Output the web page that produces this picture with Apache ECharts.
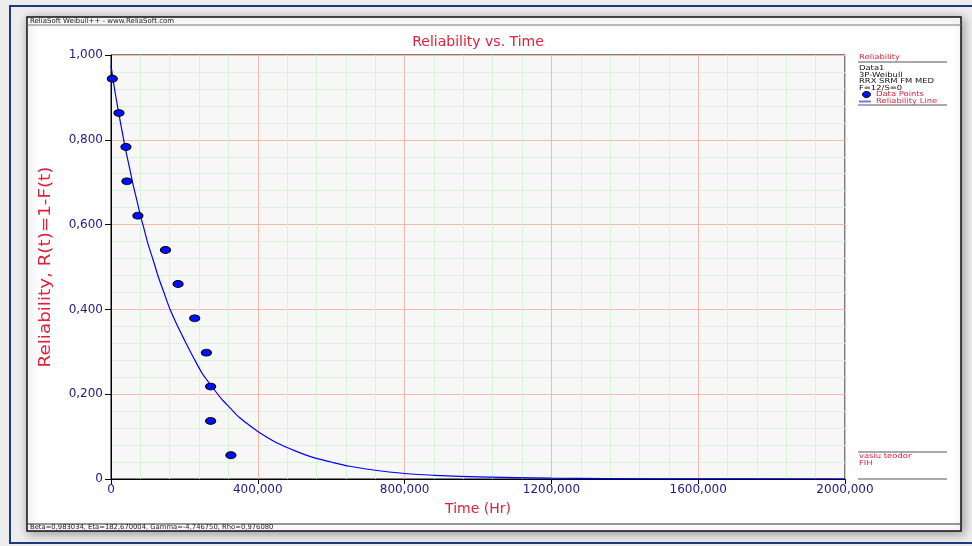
<!DOCTYPE html>
<html>
<head>
<meta charset="utf-8">
<title>Reliability vs. Time</title>
<script src="https://cdn.jsdelivr.net/npm/echarts@6/dist/echarts.min.js"></script>
<style>
    html, body { margin: 0; padding: 0; background: #ededed; }
    #chart { width: 972px; height: 546px; }
</style>
</head>
<body>
<div id="chart"></div>
<script>
// 数据点 (Time, Reliability)
var pointTime = [3.5, 21.7, 40.7, 43.4, 73.3, 148.5, 182.8, 228.1, 259.9, 271.5, 271.5, 326.7];
var pointRel = [0.944, 0.863, 0.783, 0.702, 0.621, 0.540, 0.460, 0.379, 0.298, 0.218, 0.137, 0.056];

// 可靠度曲线
var lineTime = [0, 10, 20, 30, 40, 50, 60, 70, 80, 90, 100, 115, 130, 145, 160, 180, 200, 225, 250, 275,
    300, 325, 350, 375, 400, 450, 500, 550, 600, 650, 700, 800, 900, 1000, 1200, 1500, 2000];
var lineRel = [0.975, 0.918, 0.868, 0.821, 0.776, 0.736, 0.695, 0.659, 0.622, 0.590, 0.557, 0.516, 0.474, 0.438, 0.402, 0.363, 0.328, 0.286, 0.247, 0.218,
    0.190, 0.167, 0.145, 0.128, 0.112, 0.086, 0.067, 0.051, 0.040, 0.030, 0.023, 0.013, 0.008, 0.005, 0.002, 0.0004, 0];

// 刻度标签
var xTickValues = [0, 400, 800, 1200, 1600, 2000];
var xTickLabels = ['0', '400,000', '800,000', '1200,000', '1600,000', '2000,000'];
var yTickValues = [0, 0.2, 0.4, 0.6, 0.8, 1];
var yTickLabels = ['0', '0,200', '0,400', '0,600', '0,800', '1,000'];

// 图例文字
var legendInfo = ['Data1', '3P-Weibull', 'RRX SRM FM MED', 'F=12/S=0'];
var footerText = 'Beta=0,983034, Eta=182,670004, Gamma=-4,746750, Rho=0,976080';
var headerText = 'ReliaSoft Weibull++ - www.ReliaSoft.com';

var RED = '#e2203c';
var NAVY = '#1c1c86';

function pairs(xs, ys) {
    return xs.map(function (x, i) { return [x, ys[i]]; });
}

function findLabel(values, labels, v) {
    for (var i = 0; i < values.length; i++) {
        if (Math.abs(values[i] - v) < 1e-6) return labels[i];
    }
    return '';
}

// 文字, sx 为横向拉伸
function txt(x, y, text, size, color, align, sx) {
    return {
        type: 'text', z: 10,
        x: x, y: y, scaleX: sx || 1,
        style: {
            x: 0, y: 0, text: text,
            font: size + 'px "DejaVu Sans"',
            fill: color,
            textAlign: align || 'left',
            textVerticalAlign: 'middle'
        }
    };
}

function hline(x1, x2, y, color, w) {
    return {
        type: 'line', z: 10,
        shape: { x1: x1, y1: y, x2: x2, y2: y },
        style: { stroke: color, lineWidth: w || 1 }
    };
}

var graphics = [
    // 外框和白色面板
    { type: 'rect', z: -20, shape: { x: 10, y: 6, width: 980, height: 537 },
      style: { fill: 'none', stroke: '#1e3a7a', lineWidth: 2 } },
    { type: 'rect', z: -10, shape: { x: 27, y: 17, width: 934, height: 514 },
      style: { fill: '#ffffff', stroke: '#111', lineWidth: 1.5,
               shadowBlur: 10, shadowColor: 'rgba(0,0,0,0.35)', shadowOffsetX: 2, shadowOffsetY: 2 } },
    hline(27, 961, 25, '#777', 1),
    hline(27, 961, 524, '#333', 1),
    txt(30, 21.5, headerText, 7, '#222'),
    txt(30, 527.5, footerText, 6.8, '#222'),

    // 标题和轴名
    txt(478, 42, 'Reliability vs. Time', 14, RED, 'center'),
    txt(478, 509, 'Time (Hr)', 14, RED, 'center'),
    { type: 'text', z: 10, x: 46, y: 267, rotation: Math.PI / 2, scaleX: 1.22,
      style: { x: 0, y: 0, text: 'Reliability, R(t)=1-F(t)', font: '15px "DejaVu Sans"',
               fill: RED, textAlign: 'center', textVerticalAlign: 'middle' } },

    // 右侧图例
    txt(859, 57.5, 'Reliability', 7, RED, 'left', 1.2),
    hline(858, 947, 62, '#555', 1),
    txt(859, 68.5, legendInfo[0], 7, '#111', 'left', 1.2),
    txt(859, 75, legendInfo[1], 7, '#111', 'left', 1.2),
    txt(859, 81.5, legendInfo[2], 7, '#111', 'left', 1.2),
    txt(859, 88, legendInfo[3], 7, '#111', 'left', 1.2),
    { type: 'ellipse', z: 10, shape: { cx: 866.5, cy: 94.5, rx: 4, ry: 3 },
      style: { fill: '#0010ff', stroke: '#000', lineWidth: 1 } },
    txt(876, 94.5, 'Data Points', 7, RED, 'left', 1.2),
    hline(859, 871, 101.5, '#7676ff', 2),
    txt(876, 101, 'Reliability Line', 7, RED, 'left', 1.2),
    hline(858, 947, 105, '#555', 1),

    hline(858, 947, 452, '#555', 1),
    txt(859, 456.5, 'vasiu teodor', 7, RED, 'left', 1.2),
    txt(859, 463, 'FIH', 7, RED, 'left', 1.2),
    hline(858, 947, 479, '#555', 1)
];

var chart = echarts.init(document.getElementById('chart'), null, { renderer: 'canvas' });

var option = {
    backgroundColor: '#ededed',
    animation: false,
    graphic: { elements: graphics },
    grid: {
        left: 111, right: 127, top: 55, bottom: 67,
        containLabel: false,
        outerBoundsMode: 'none',
        show: true,
        backgroundColor: '#f7f7f7',
        borderColor: '#000',
        borderWidth: 1
    },
    xAxis: {
        type: 'value',
        min: 0, max: 2000, interval: 400,
        axisLine: { lineStyle: { color: '#000', width: 1 } },
        axisTick: { show: true, length: 5, lineStyle: { color: '#000' } },
        axisLabel: {
            margin: 5, color: NAVY, fontSize: 12, fontFamily: 'DejaVu Sans',
            showMaxLabel: true, showMinLabel: true,
            formatter: function (v) { return findLabel(xTickValues, xTickLabels, v); }
        },
        splitLine: { show: true, lineStyle: { color: '#f5b8ab', width: 1 } },
        minorTick: { show: false, splitNumber: 5 },
        minorSplitLine: { show: true, lineStyle: { color: '#d8f4d8', width: 1 } }
    },
    yAxis: {
        type: 'value',
        min: 0, max: 1, interval: 0.2,
        axisLine: { show: true, lineStyle: { color: '#000', width: 1 } },
        axisTick: { show: true, length: 6, lineStyle: { color: '#000' } },
        axisLabel: {
            margin: 8, color: NAVY, fontSize: 12, fontFamily: 'DejaVu Sans',
            formatter: function (v) { return findLabel(yTickValues, yTickLabels, v); }
        },
        splitLine: { show: true, lineStyle: { color: '#f5b8ab', width: 1 } },
        minorTick: { show: false, splitNumber: 5 },
        minorSplitLine: { show: true, lineStyle: { color: '#d8f4d8', width: 1 } }
    },
    series: [
        {
            name: 'Reliability Line',
            type: 'line',
            data: pairs(lineTime, lineRel),
            smooth: 0.3,
            showSymbol: false,
            lineStyle: { color: '#0000ff', width: 1.2 },
            z: 3
        },
        {
            name: 'Data Points',
            type: 'scatter',
            data: pairs(pointTime, pointRel),
            symbol: 'circle',
            symbolSize: [10, 7],
            itemStyle: { color: '#0010ff', borderColor: '#000', borderWidth: 1, opacity: 1 },
            z: 4
        }
    ]
};

chart.setOption(option);
</script>
</body>
</html>
